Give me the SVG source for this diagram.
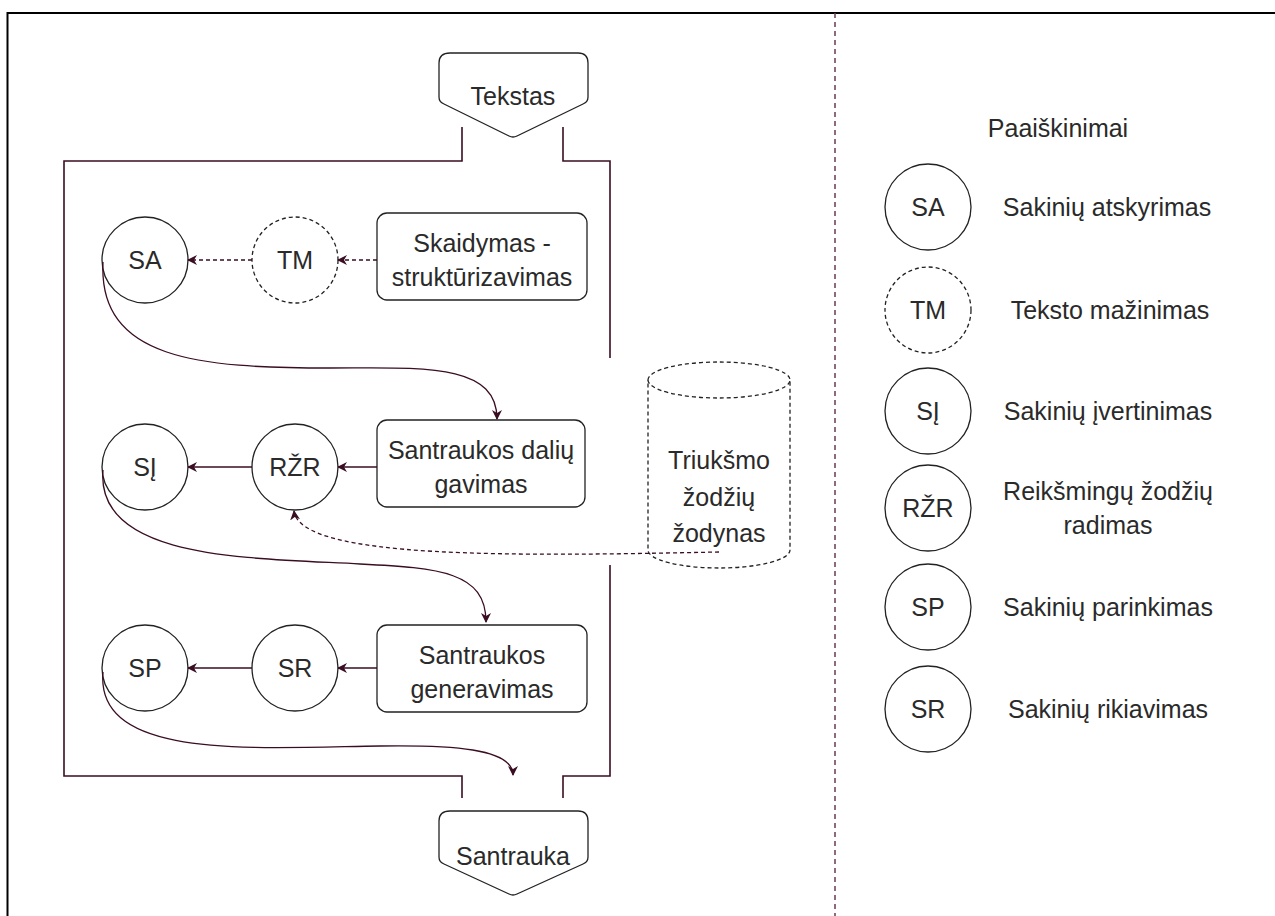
<svg xmlns="http://www.w3.org/2000/svg" width="1275" height="916" viewBox="0 0 1275 916">
<style>
text{font-family:"Liberation Sans",Arial,sans-serif;font-size:25px;fill:#2a2a2a;text-anchor:middle;dominant-baseline:central}
.n{fill:#fff;stroke:#222;stroke-width:1.3}
.d{stroke-dasharray:4 3}
.c{fill:none;stroke:#3a0d22;stroke-width:1.3}
.w{fill:none;stroke:#3a0d22;stroke-width:1.6}
</style>
<defs>
<marker id="a" viewBox="0 0 10 10" refX="9" refY="5" markerWidth="10" markerHeight="10" markerUnits="userSpaceOnUse" orient="auto">
<path d="M0,0 L10,5 L0,10 L3,5 Z" fill="#3a0d22"/>
</marker>
</defs>
<rect width="1275" height="916" fill="#fff"/>
<g id="frame">
<path d="M7.5,916 V13 H1275" fill="none" stroke="#000" stroke-width="2"/>
<line x1="835" y1="13" x2="835" y2="916" stroke="#6b3a52" stroke-width="1.5" stroke-dasharray="5 4"/>
</g>
<g id="walls">
<path class="w" d="M462,127 V161 H64 V776 H462 V798"/>
<path class="w" d="M563,127 V161 H610 V358"/>
<path class="w" d="M610,565 V776 H563 V798"/>
</g>
<g id="tekstas">
<path class="n" d="M450,53 H578 Q588,53 588,63 V97 Q588,102 583,104 L517,136 Q513,138 509,136 L444,104 Q439,102 439,97 V63 Q439,53 450,53 Z"/>
<text x="513" y="96">Tekstas</text>
</g>
<g id="santrauka">
<path class="n" d="M450,811 H578 Q588,811 588,821 V857 Q588,862 583,864 L517,894 Q513,896 509,894 L444,864 Q439,862 439,857 V821 Q439,811 450,811 Z"/>
<text x="513" y="856">Santrauka</text>
</g>
<g id="SA"><circle class="n" cx="145" cy="260" r="43"/><text x="145" y="260">SA</text></g>
<g id="TM"><circle class="n d" cx="295" cy="260" r="43"/><text x="295" y="260">TM</text></g>
<g id="skaidymas"><rect class="n" x="377" y="213" width="210" height="87" rx="10"/><text x="482" y="243">Skaidymas -</text><text x="482" y="277">struktūrizavimas</text></g>
<g id="SI"><circle class="n" cx="145" cy="467" r="43"/><text x="145" y="467">SĮ</text></g>
<g id="RZR"><circle class="n" cx="295" cy="467" r="43"/><text x="295" y="467">RŽR</text></g>
<g id="dalys"><rect class="n" x="377" y="420" width="208" height="87" rx="10"/><text x="481" y="450">Santraukos dalių</text><text x="481" y="484">gavimas</text></g>
<g id="zodynas">
<path class="n d" d="M648,380 A71,18 0 0 1 790,380 V550 A71,18 0 0 1 648,550 Z"/>
<path class="n d" d="M648,380 A71,18 0 0 0 790,380" fill="none"/>
<text x="719" y="460">Triukšmo</text><text x="719" y="497">žodžių</text><text x="719" y="533">žodynas</text>
</g>
<g id="SP"><circle class="n" cx="145" cy="668" r="43"/><text x="145" y="668">SP</text></g>
<g id="SR"><circle class="n" cx="295" cy="668" r="43"/><text x="295" y="668">SR</text></g>
<g id="generavimas"><rect class="n" x="377" y="625" width="210" height="87" rx="10"/><text x="482" y="655">Santraukos</text><text x="482" y="689">generavimas</text></g>
<g id="connectors">
<line class="c d" x1="377" y1="260" x2="338" y2="260" marker-end="url(#a)"/>
<line class="c d" x1="252" y1="260" x2="188" y2="260" marker-end="url(#a)"/>
<line class="c" x1="377" y1="467" x2="338" y2="467" marker-end="url(#a)"/>
<line class="c" x1="252" y1="467" x2="188" y2="467" marker-end="url(#a)"/>
<line class="c" x1="377" y1="668" x2="338" y2="668" marker-end="url(#a)"/>
<line class="c" x1="252" y1="668" x2="188" y2="668" marker-end="url(#a)"/>
<path class="c" d="M103,262 C98,360 200,368 330,368 C420,368 497,362 497,419" marker-end="url(#a)"/>
<path class="c" d="M103,470 C95,560 250,558 360,564 C440,568 486,572 486,622" marker-end="url(#a)"/>
<path class="c" d="M103,672 C95,760 250,748 380,746 C450,745 513,748 513,775" marker-end="url(#a)"/>
<path class="c d" d="M719,552 C520,556 300,560 294,511" marker-end="url(#a)"/>
</g>
<g id="legend">
<text x="1058" y="128">Paaiškinimai</text>
<circle class="n" cx="928" cy="207" r="43"/><text x="928" y="207">SA</text><text x="1107" y="207">Sakinių atskyrimas</text>
<circle class="n d" cx="928" cy="310" r="43"/><text x="928" y="310">TM</text><text x="1110" y="310">Teksto mažinimas</text>
<circle class="n" cx="928" cy="411" r="43"/><text x="928" y="411">SĮ</text><text x="1108" y="411">Sakinių įvertinimas</text>
<circle class="n" cx="928" cy="508" r="43"/><text x="928" y="508">RŽR</text><text x="1108" y="491">Reikšmingų žodžių</text><text x="1108" y="525">radimas</text>
<circle class="n" cx="928" cy="607" r="43"/><text x="928" y="607">SP</text><text x="1108" y="607">Sakinių parinkimas</text>
<circle class="n" cx="928" cy="709" r="43"/><text x="928" y="709">SR</text><text x="1108" y="709">Sakinių rikiavimas</text>
</g>
</svg>
